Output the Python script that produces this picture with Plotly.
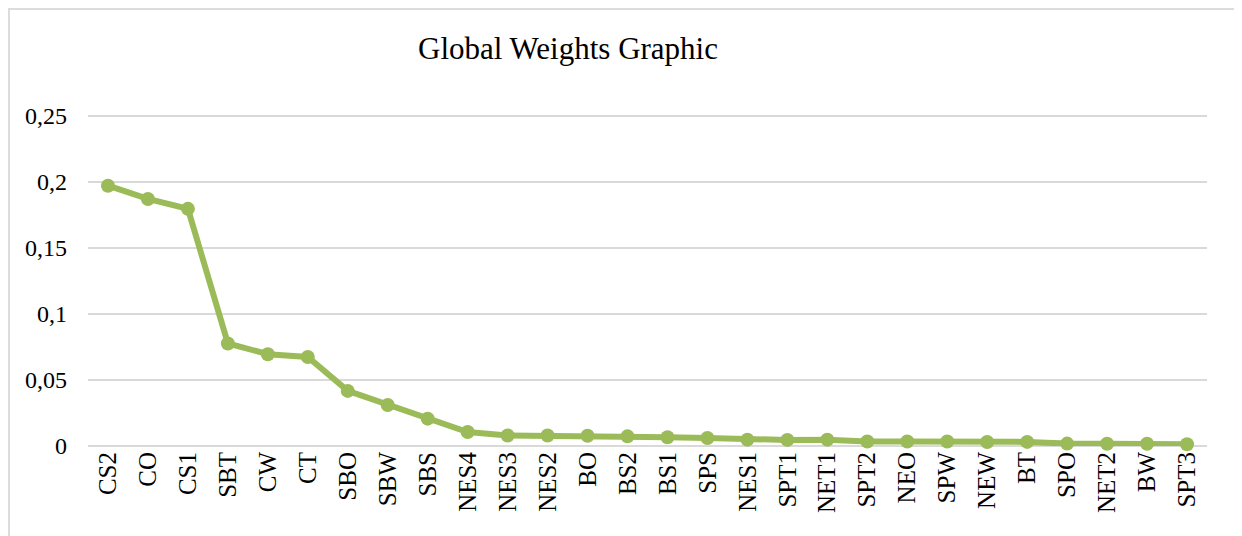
import plotly.graph_objects as go

categories = ["CS2", "CO", "CS1", "SBT", "CW", "CT", "SBO", "SBW", "SBS", "NES4",
              "NES3", "NES2", "BO", "BS2", "BS1", "SPS", "NES1", "SPT1", "NET1",
              "SPT2", "NEO", "SPW", "NEW", "BT", "SPO", "NET2", "BW", "SPT3"]
weights = [0.197, 0.187, 0.1795, 0.0776, 0.0695, 0.0674, 0.0417, 0.031, 0.0207, 0.0106,
           0.0080, 0.0079, 0.0078, 0.0073, 0.0066, 0.0060, 0.0048, 0.0046, 0.0048,
           0.0034, 0.0034, 0.0034, 0.0030, 0.0031, 0.0018, 0.0017, 0.0017, 0.0013]
y_ticks = [0, 0.05, 0.1, 0.15, 0.2, 0.25]
y_tick_labels = ["0", "0,05", "0,1", "0,15", "0,2", "0,25"]

fig = go.Figure()
fig.add_trace(go.Scatter(
    x=categories, y=weights, mode="lines+markers",
    line=dict(color="#9BBB59", width=6),
    marker=dict(color="#9BBB59", size=14),
    showlegend=False, cliponaxis=False,
))

font_family = "Liberation Serif, Times New Roman, serif"
# page body has an 8px margin, so offsets are compensated below
fig.update_layout(
    width=1242, height=536,
    margin=dict(l=80, r=43, t=104, b=98, autoexpand=False),
    paper_bgcolor="white", plot_bgcolor="white",
    title=dict(text="Global Weights Graphic", xref="container", x=560 / 1242,
               xanchor="center", y=1 - 40 / 536, yanchor="middle",
               font=dict(family=font_family, size=31, color="black")),
    font=dict(family=font_family, color="black"),
    xaxis=dict(tickangle=-90, tickfont=dict(size=25, family=font_family, color="black"),
               showgrid=False, showline=False, zeroline=False, ticks="",
               automargin=False, range=[-0.5, len(categories) - 0.5]),
    yaxis=dict(range=[0, 0.2528], tickvals=y_ticks, ticktext=y_tick_labels,
               tickfont=dict(size=24, family=font_family, color="black"),
               showgrid=True, gridcolor="#d9d9d9", gridwidth=2,
               zeroline=True, zerolinecolor="#d9d9d9", zerolinewidth=2,
               showline=False, ticks="", ticklabelstandoff=20, automargin=False),
    shapes=[dict(type="rect", xref="paper", yref="paper",
                 x0=(9 - 88) / 1119, x1=(1239 - 88) / 1119,
                 y0=-0.4, y1=(446 - 9) / 334,
                 line=dict(color="#dcdcdc", width=2), fillcolor="rgba(0,0,0,0)",
                 layer="below")],
)

fig.write_html("out.html")
